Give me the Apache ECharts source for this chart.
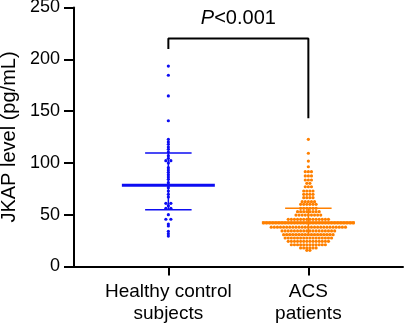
<!DOCTYPE html>
<html>
<head>
<meta charset="utf-8">
<script src="https://cdn.jsdelivr.net/npm/echarts@6/dist/echarts.min.js"></script>
<style>
html,body{margin:0;padding:0;background:#fff}
#chart{width:406px;height:325px}
</style>
</head>
<body>
<div id="chart"></div>
<script>
// groups on the x axis (positions 1 and 2)
const groups = ['Healthy control\nsubjects', 'ACS\npatients'];
const yTicks = [0, 50, 100, 150, 200, 250];

// JKAP level, pg/mL
const healthyValues = [
    193.5, 184.6, 164.6, 140.7, 122.8, 120.2, 117.9, 115.3, 113.1, 110.5,
    107.0, 104.4, 102.1, 102.1, 99.9, 95.4, 93.1, 90.9, 88.6, 86.4,
    84.2, 80.9, 78.4, 76.1, 72.9, 69.7, 67.1, 61.0, 61.0, 58.7,
    56.2, 56.2, 50.0, 45.6, 45.6, 41.0, 39.1, 34.0, 31.7, 29.4
];
const acsValues = [
    122.8, 109.3, 101.8, 96.3,
    91.5, 91.5, 91.5,
    87.4, 87.4, 87.4,
    83.5, 83.5, 83.5,
    80.3, 80.3,
    77.0, 77.0, 77.0,
    72.9, 72.9, 72.9, 72.9,
    69.7, 69.7, 69.7, 69.7,
    66.4, 66.4, 66.4, 66.4,
    62.6, 62.6, 62.6, 62.6, 62.6,
    60.0, 60.0, 60.0, 60.0, 60.0, 60.0,
    56.2, 56.2, 56.2, 56.2, 56.2, 56.2,
    52.9, 52.9, 52.9, 52.9, 52.9, 52.9, 52.9, 52.9,
    49.6, 49.6, 49.6, 49.6, 49.6, 49.6, 49.6, 49.6, 49.6,
    45.5, 45.5, 45.5, 45.5, 45.5, 45.5, 45.5, 45.5, 45.5, 45.5, 45.5, 45.5, 45.5, 45.5,
    42.2, 42.2, 42.2, 42.2, 42.2, 42.2, 42.2, 42.2, 42.2, 42.2,
    42.2, 42.2, 42.2, 42.2, 42.2, 42.2, 42.2, 42.2, 42.2, 42.2,
    42.2, 42.2, 42.2, 42.2, 42.2, 42.2, 42.2, 42.2, 42.2, 42.2,
    38.0, 38.0, 38.0, 38.0, 38.0, 38.0, 38.0, 38.0, 38.0, 38.0,
    38.0, 38.0, 38.0, 38.0, 38.0, 38.0, 38.0, 38.0, 38.0, 38.0,
    38.0, 38.0, 38.0, 38.0, 38.0,
    34.3, 34.3, 34.3, 34.3, 34.3, 34.3, 34.3, 34.3, 34.3,
    34.3, 34.3, 34.3, 34.3, 34.3, 34.3, 34.3, 34.3, 34.3,
    30.7, 30.7, 30.7, 30.7, 30.7, 30.7, 30.7, 30.7, 30.7,
    30.7, 30.7, 30.7, 30.7, 30.7, 30.7, 30.7, 30.7,
    27.5, 27.5, 27.5, 27.5, 27.5, 27.5, 27.5, 27.5,
    27.5, 27.5, 27.5, 27.5, 27.5, 27.5, 27.5, 27.5,
    24.3, 24.3, 24.3, 24.3, 24.3, 24.3, 24.3,
    24.3, 24.3, 24.3, 24.3, 24.3, 24.3, 24.3,
    21.0, 21.0, 21.0, 21.0, 21.0, 21.0,
    21.0, 21.0, 21.0, 21.0, 21.0, 21.0,
    17.9, 17.9, 17.9, 17.9, 17.9, 17.9,
    15.6, 15.6
];

// centre line, lower bar, upper bar
const healthyBars = [78.4, 54.8, 109.5];
const acsBars = [42.2, 31.0, 56.2];

// bracket: left foot, top, right foot
const bracketLevels = [210, 220, 143];
const pText = '{i|P}<0.001';

const font = 'Liberation Sans, Arial, sans-serif';
const blue = '#0d0df2';
const orange = '#ff8000';

// spread equal values side by side (simple row swarm)
function swarm(values, pos, step) {
    let rows = {};
    values.forEach(v => { rows[v] = (rows[v] || 0) + 1; });
    let out = [];
    Object.keys(rows).forEach(k => {
        let n = rows[k];
        for (let i = 0; i < n; i++) {
            out.push([pos + (i - (n - 1) / 2) * step, Number(k)]);
        }
    });
    return out;
}

function barItem(params, api) {
    let x = api.value(0), mid = api.value(1), lo = api.value(2), hi = api.value(3);
    let color = api.visual('color');
    let seg = (x1, y1, x2, y2, w) => {
        let a = api.coord([x1, y1]), b = api.coord([x2, y2]);
        return {type: 'line', shape: {x1: a[0], y1: a[1], x2: b[0], y2: b[1]},
            style: {stroke: color, lineWidth: w}};
    };
    return {type: 'group', children: [
        seg(x, lo, x, hi, 1.5),
        seg(x - 0.166, lo, x + 0.166, lo, 1.5),
        seg(x - 0.166, hi, x + 0.166, hi, 1.5),
        seg(x - 0.332, mid, x + 0.332, mid, 3)
    ]};
}

let chart = echarts.init(document.getElementById('chart'));
chart.setOption({
    animation: false,
    grid: {left: 74, right: 3, top: 7.5, bottom: 58.5, outerBoundsMode: 'none'},
    xAxis: {
        type: 'value',
        min: 0.326,
        max: 2.676,
        splitLine: {show: false},
        axisLine: {lineStyle: {color: '#000', width: 2}},
        axisTick: {customValues: [1, 2], length: 9, lineStyle: {color: '#000', width: 2}},
        axisLabel: {
            customValues: [1, 2],
            formatter: v => groups[Math.round(v) - 1],
            color: '#000', fontSize: 19, lineHeight: 22, fontFamily: font, margin: 14
        }
    },
    yAxis: {
        type: 'value',
        min: yTicks[0],
        max: yTicks[yTicks.length - 1],
        interval: yTicks[1] - yTicks[0],
        name: 'JKAP level (pg/mL)',
        nameLocation: 'middle',
        nameGap: 54,
        nameTextStyle: {color: '#000', fontSize: 20, fontFamily: font},
        splitLine: {show: false},
        axisLine: {show: true, lineStyle: {color: '#000', width: 2}},
        axisTick: {show: true, length: 10, lineStyle: {color: '#000', width: 2}},
        axisLabel: {color: '#000', fontSize: 18, fontFamily: font, margin: 14}
    },
    series: [
        {
            type: 'scatter', name: groups[0],
            data: swarm(healthyValues, 1, 0.0357),
            symbolSize: 3.2, itemStyle: {color: blue, opacity: 1}
        },
        {
            type: 'scatter', name: groups[1],
            data: swarm(acsValues, 2, 0.0221),
            symbolSize: 3.2, itemStyle: {color: orange, opacity: 1}
        },
        {
            type: 'custom', renderItem: barItem, z: 5,
            data: [
                {value: [1].concat(healthyBars), itemStyle: {color: blue}},
                {value: [2].concat(acsBars), itemStyle: {color: orange}}
            ]
        },
        {
            type: 'line', symbol: 'none',
            lineStyle: {color: '#000', width: 2},
            data: [[1, bracketLevels[0]], [1, bracketLevels[1]], [2, bracketLevels[1]], [2, bracketLevels[2]]]
        },
        {
            type: 'scatter', symbolSize: 0,
            itemStyle: {opacity: 1},
            data: [[1.5, bracketLevels[1]]],
            label: {
                show: true, position: 'top', distance: 10,
                formatter: pText, color: '#000', fontSize: 20, fontFamily: font,
                rich: {i: {fontStyle: 'italic', fontSize: 20, fontFamily: font, color: '#000'}}
            }
        }
    ]
});
</script>
</body>
</html>
